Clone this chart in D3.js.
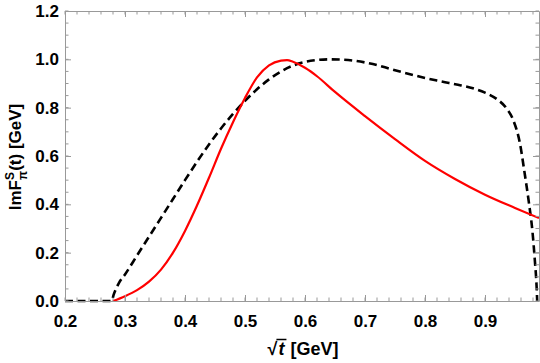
<!DOCTYPE html>
<html>
<head>
<meta charset="utf-8">
<script src="https://cdn.jsdelivr.net/npm/d3@7"></script>
<style>
  body { margin: 0; background: #fff; }
  svg { display: block; }
  text { font-family: "Liberation Sans", Arial, sans-serif; }
</style>
</head>
<body>
<svg id="chart" width="540" height="363"></svg>
<script>
// ---- data ----
const xTicks = [0.2, 0.3, 0.4, 0.5, 0.6, 0.7, 0.8, 0.9];
const yTicks = [0.0, 0.2, 0.4, 0.6, 0.8, 1.0, 1.2];

const redX = [0.28, 0.30, 0.32, 0.34, 0.36, 0.38, 0.40, 0.42, 0.44, 0.46, 0.48, 0.50, 0.52, 0.54, 0.56, 0.57, 0.58, 0.60, 0.62, 0.65, 0.70, 0.75, 0.80, 0.85, 0.90, 0.95, 0.99];
const redY = [0.0, 0.02, 0.045, 0.08, 0.13, 0.20, 0.29, 0.395, 0.51, 0.63, 0.74, 0.84, 0.925, 0.975, 0.995, 0.997, 0.99, 0.965, 0.93, 0.865, 0.765, 0.67, 0.58, 0.505, 0.44, 0.385, 0.343];

const dashX = [0.2, 0.278, 0.281, 0.285, 0.29, 0.30, 0.32, 0.34, 0.36, 0.38, 0.40, 0.42, 0.44, 0.46, 0.48, 0.50, 0.52, 0.54, 0.56, 0.58, 0.60, 0.62, 0.64, 0.66, 0.68, 0.70, 0.72, 0.74, 0.76, 0.78, 0.80, 0.82, 0.84, 0.86, 0.88, 0.90, 0.92, 0.935, 0.947, 0.958, 0.966, 0.973, 0.979, 0.983, 0.986, 0.987];
const dashY = [0.0, 0.0, 0.025, 0.05, 0.075, 0.11, 0.188, 0.266, 0.344, 0.422, 0.50, 0.576, 0.648, 0.714, 0.774, 0.828, 0.876, 0.917, 0.95, 0.974, 0.989, 0.997, 1.0, 0.999, 0.995, 0.987, 0.976, 0.962, 0.948, 0.935, 0.923, 0.912, 0.902, 0.892, 0.88, 0.862, 0.835, 0.80, 0.749, 0.655, 0.53, 0.41, 0.29, 0.17, 0.06, 0.0];

// ---- layout ----
const svg = d3.select("#chart");
const L = 65, R = 539, T = 11, B = 301;
const x = d3.scaleLinear().domain([0.2, 0.99]).range([L, R]);
const y = d3.scaleLinear().domain([0, 1.2]).range([B, T]);
const frameColor = "#999999";

// curves
const line = d3.line().x(d => x(d[0])).y(d => y(d[1])).curve(d3.curveMonotoneX);
svg.append("clipPath").attr("id", "clip").append("rect")
  .attr("x", L).attr("y", T - 2).attr("width", R - L).attr("height", B - T + 4);

const g = svg.append("g").attr("clip-path", "url(#clip)");
g.append("path").datum(dashX.map((v, i) => [v, dashY[i]]))
  .attr("d", line).attr("fill", "none").attr("stroke", "#000")
  .attr("stroke-width", 2.6).attr("stroke-dasharray", "8,4.5");
g.append("path").datum(redX.map((v, i) => [v, redY[i]]))
  .attr("d", line).attr("fill", "none").attr("stroke", "#ff0000")
  .attr("stroke-width", 2.2);

// axes (ticks inside)
function styleAxis(sel) {
  sel.select(".domain").attr("stroke", frameColor);
  sel.selectAll(".tick line").attr("stroke", frameColor);
}
const xMinor = d3.range(0.2, 0.991, 0.02).map(v => +v.toFixed(2));
const yMinor = d3.range(0, 1.2001, 0.05).map(v => +v.toFixed(2));

// minor ticks
const mk = svg.append("g").attr("stroke", frameColor).attr("stroke-width", 1);
xMinor.forEach(v => {
  mk.append("line").attr("x1", x(v)).attr("x2", x(v)).attr("y1", B).attr("y2", B - 3.5);
  mk.append("line").attr("x1", x(v)).attr("x2", x(v)).attr("y1", T).attr("y2", T + 3.5);
});
yMinor.forEach(v => {
  mk.append("line").attr("y1", y(v)).attr("y2", y(v)).attr("x1", L).attr("x2", L + 3.5);
  mk.append("line").attr("y1", y(v)).attr("y2", y(v)).attr("x1", R).attr("x2", R - 3.5);
});

const xAxis = svg.append("g").attr("transform", `translate(0,${B})`)
  .call(d3.axisBottom(x).tickValues(xTicks).tickSizeInner(-6).tickSizeOuter(0).tickPadding(14).tickFormat(d3.format(".1f")));
styleAxis(xAxis);
const xTop = svg.append("g").attr("transform", `translate(0,${T})`)
  .call(d3.axisTop(x).tickValues(xTicks).tickSizeInner(-6).tickSizeOuter(0).tickFormat(""));
styleAxis(xTop);
const yAxis = svg.append("g").attr("transform", `translate(${L},0)`)
  .call(d3.axisLeft(y).tickValues(yTicks).tickSizeInner(-6).tickSizeOuter(0).tickPadding(6).tickFormat(d3.format(".1f")));
styleAxis(yAxis);
const yRight = svg.append("g").attr("transform", `translate(${R},0)`)
  .call(d3.axisRight(y).tickValues(yTicks).tickSizeInner(-6).tickSizeOuter(0).tickFormat(""));
styleAxis(yRight);

svg.selectAll(".tick text").attr("font-size", 17).attr("font-weight", "bold")
  .attr("fill", "#000").attr("font-family", "Liberation Sans, Arial, sans-serif");

// y label
const yl = svg.append("text").attr("transform", "translate(21,157) rotate(-90)")
  .attr("text-anchor", "middle").attr("font-size", 17).attr("font-weight", "bold").attr("fill", "#000");
yl.append("tspan").text("ImF");
yl.append("tspan").attr("dy", -7).attr("font-size", 12).text("S");
yl.append("tspan").attr("dx", -8).attr("dy", 13).attr("font-size", 12).text("π");
yl.append("tspan").attr("dy", -6).text("(t) [GeV]");

// x label
const xl = svg.append("g");
const sq = xl.append("text").attr("font-size", 18).attr("font-weight", "bold").attr("y", 355).text("√");
const tt = xl.append("text").attr("font-size", 18).attr("font-weight", "bold").attr("font-style", "italic").attr("y", 355).text("t");
const gv = xl.append("text").attr("font-size", 18).attr("font-weight", "bold").attr("y", 355).text(" [GeV]");
const w1 = sq.node().getComputedTextLength();
const w2 = tt.node().getComputedTextLength() + 3;
const w3 = gv.node().getComputedTextLength();
const x0 = 303 - (w1 + w2 + w3 + 4) / 2;
sq.attr("x", x0);
tt.attr("x", x0 + w1 + 1);
gv.attr("x", x0 + w1 + w2 + 4);
xl.append("line").attr("x1", x0 + w1 - 1).attr("x2", x0 + w1 + w2).attr("y1", 339.5).attr("y2", 339.5)
  .attr("stroke", "#000").attr("stroke-width", 1.5);
</script>
</body>
</html>
